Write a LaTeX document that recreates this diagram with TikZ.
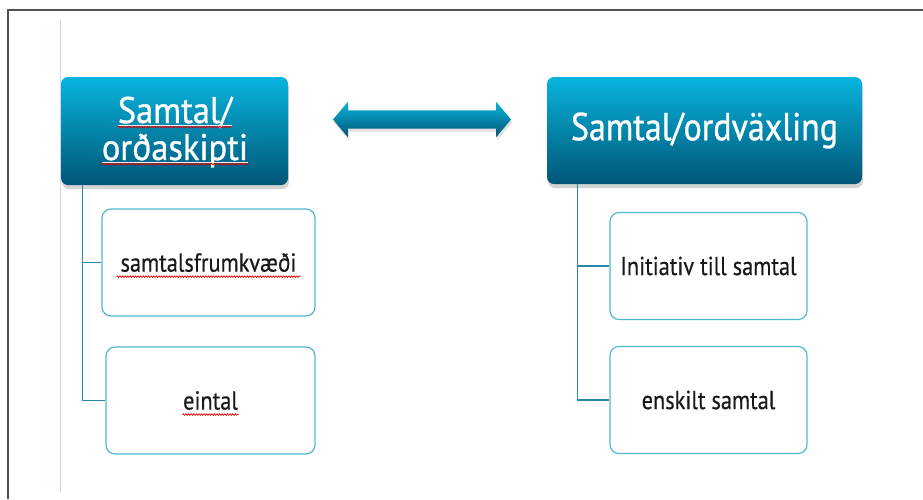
\documentclass[tikz,border=0pt]{standalone}
\usepackage{fontspec}
\setmainfont{PT Sans}
\newfontfamily\headfont[FakeStretch=0.87,FakeBold=0.8]{PT Sans}
\newfontfamily\headfontL[FakeStretch=0.93,FakeBold=0.8]{PT Sans}
\newfontfamily\leaffont[FakeStretch=0.86,FakeBold=0.4]{PT Sans}
\usetikzlibrary{shapes.arrows,shadows,decorations.pathmorphing}
\definecolor{hdtop}{RGB}{8,180,222}
\definecolor{hdbot}{RGB}{0,86,118}
\definecolor{leafline}{RGB}{80,185,208}
\definecolor{treeline}{RGB}{40,140,168}
\definecolor{marginblue}{RGB}{200,212,250}
\definecolor{framegray}{RGB}{80,80,80}
\begin{document}
\begin{tikzpicture}[x=1pt,y=-1pt,
  head/.style={rectangle,rounded corners=7pt,top color=hdtop,bottom color=hdbot,
    drop shadow={opacity=.35,shadow xshift=1pt,shadow yshift=-4pt},inner sep=0pt},
  headtext/.style={text=white,font=\headfont\fontsize{39}{41}\selectfont,inner sep=0pt},
  headtextL/.style={text=white,font=\headfontL\fontsize{37}{39}\selectfont,inner sep=0pt},
  leaf/.style={draw=leafline,line width=1.2pt,rounded corners=9pt,fill=white,
    minimum height=107pt,inner sep=0pt,text=black!90,font=\leaffont\fontsize{26}{28}\selectfont},
  branch/.style={draw=treeline,line width=1.2pt},
  spell/.style={draw=red!90!black,line width=.7pt,decorate,
    decoration={snake,amplitude=.8pt,segment length=2.6pt}},
  underl/.style={draw=white,line width=.9pt}]
\useasboundingbox (0,0) rectangle (923,499);
\draw[framegray,line width=1.3pt] (8,499) -- (8,10) -- (923,10);
\draw[marginblue,line width=1pt] (60,20) -- (60,492);

\node[head,minimum width=227pt,minimum height=108pt] (orda) at (174.5,131) {};
\node[headtextL,anchor=base] (ordaA) at (175,123) {Samtal/};
\node[headtextL,anchor=base] (ordaB) at (175,160) {orðaskipti};
\node[head,headtext,minimum width=315pt,minimum height=107pt] (vaxl) at (704.5,130.5) {Samtal/ordväxling};

\node[double arrow,double arrow head extend=8.5pt,double arrow tip angle=100,
  minimum height=178pt,inner xsep=0pt,inner ysep=9pt,top color=hdtop,bottom color=hdbot,
  drop shadow={opacity=.25,shadow xshift=1pt,shadow yshift=-3pt}] (swap) at (422,119.5) {};

\foreach \n/\x/\y/\w/\t in {sfk/208.5/262.5/213/samtalsfrumkvæði,
  eint/210.5/400.5/209/eintal,
  init/708.5/266/197/Initiativ till samtal,
  enskilt/708.5/400/197/enskilt samtal}
  \node[leaf,minimum width=\w pt] (\n) at (\x,\y) {\t};

\foreach \c in {sfk,eint}
  \draw[branch] ([xshift=22pt]orda.south west) |- (\c.west);
\foreach \c in {init,enskilt}
  \draw[branch] ([xshift=31pt]vaxl.south west) |- (\c.west);

\foreach \t in {ordaA,ordaB}
{
\draw[underl] ([yshift=-2pt]\t.base west) -- ([yshift=-2pt]\t.base east);
\draw[spell] ([yshift=-4pt]\t.base west) -- ([yshift=-4pt]\t.base east);
}
\draw[spell] ([yshift=-5pt,xshift=-92pt]sfk.base) -- ([yshift=-5pt,xshift=92pt]sfk.base);
\draw[spell] ([yshift=-5pt,xshift=-28pt]eint.base) -- ([yshift=-5pt,xshift=28pt]eint.base);
\end{tikzpicture}
\end{document}
